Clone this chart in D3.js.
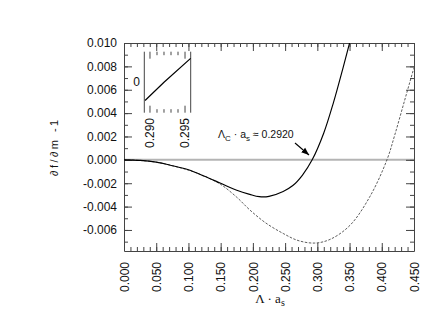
<!DOCTYPE html>
<html>
<head>
<meta charset="utf-8">
<script src="https://cdn.jsdelivr.net/npm/d3@7"></script>
<style>
body { margin: 0; background: #fff; }
text { font-family: "Liberation Sans", Arial, sans-serif; fill: #111; }
</style>
</head>
<body>
<svg id="chart" width="436" height="314"></svg>
<script>
// tick values
const xMajor = [0, 0.05, 0.10, 0.15, 0.20, 0.25, 0.30, 0.35, 0.40, 0.45];
const xMinor = d3.range(0, 0.4501, 0.01);
const yMajor = [-0.006, -0.004, -0.002, 0, 0.002, 0.004, 0.006, 0.008, 0.010];
const yMinor = d3.range(-0.007, 0.0101, 0.001);

// solid curve
const solidX = [0, 0.025, 0.05, 0.075, 0.10, 0.125, 0.15, 0.175, 0.195, 0.21, 0.225, 0.247, 0.262, 0.277, 0.292, 0.31, 0.325, 0.34, 0.351, 0.36];
const solidY = [0, -0.00005, -0.0002, -0.0005, -0.00085, -0.0014, -0.0020, -0.0026, -0.00295, -0.00315, -0.00312, -0.0027, -0.0022, -0.0013, 0, 0.0023, 0.0049, 0.0079, 0.0102, 0.0122];

// dashed curve
const dashX = [0, 0.025, 0.05, 0.075, 0.10, 0.125, 0.15, 0.175, 0.1955, 0.22, 0.247, 0.27, 0.296, 0.32, 0.3507, 0.382, 0.408, 0.42, 0.435, 0.45];
const dashY = [0, -0.00005, -0.0002, -0.0005, -0.00088, -0.0014, -0.0021, -0.0032, -0.0043, -0.0054, -0.0063, -0.0069, -0.00712, -0.0068, -0.0056, -0.0031, 0, 0.0021, 0.0050, 0.0079];

// inset: zoom of the solid curve near its root
const insetX = [0.2893, 0.2920, 0.2958];
const insetY = [-0.0003, 0, 0.00039];
const insetMajor = [0.290, 0.295];
const insetMinor = [0.290, 0.291, 0.292, 0.293, 0.294, 0.295];
const rootLabel = "0.2920";

const svg = d3.select("#chart");
svg.append("rect").attr("width", 436).attr("height", 314).attr("fill", "#fff");

const L = 124, R = 414, T = 43, B = 251;
const x = d3.scaleLinear().domain([0, 0.45]).range([L, R]);
const y = d3.scaleLinear().domain([-0.0078, 0.010]).range([B, T]);
const fmt = d => d.toFixed(3);

const defs = svg.append("defs");
defs.append("clipPath").attr("id", "clip")
  .append("rect").attr("x", L).attr("y", T).attr("width", R - L).attr("height", B - T);

// zero line
svg.append("line")
  .attr("x1", L).attr("x2", R).attr("y1", y(0)).attr("y2", y(0))
  .attr("stroke", "#b4b4b4").attr("stroke-width", 2);

// axes
function styleAxis(g) {
  g.selectAll("path,line").attr("stroke", "#444").attr("stroke-width", 1);
}

const bottom = svg.append("g").attr("transform", `translate(0,${B})`)
  .call(d3.axisBottom(x).tickValues(xMajor).tickSize(-8).tickSizeOuter(0).tickFormat(fmt))
  .call(styleAxis);
bottom.selectAll("text")
  .attr("transform", "rotate(-90)")
  .attr("x", -11).attr("y", 0).attr("dy", "0.35em")
  .style("text-anchor", "end").style("font-size", "12px");
svg.append("g").attr("transform", `translate(0,${B})`)
  .call(d3.axisBottom(x).tickValues(xMinor).tickSize(-4).tickFormat(""))
  .call(styleAxis).select(".domain").remove();

svg.append("g").attr("transform", `translate(0,${T})`)
  .call(d3.axisTop(x).tickValues(xMajor).tickSize(-8).tickSizeOuter(0).tickFormat(""))
  .call(styleAxis);
svg.append("g").attr("transform", `translate(0,${T})`)
  .call(d3.axisTop(x).tickValues(xMinor).tickSize(-4).tickFormat(""))
  .call(styleAxis).select(".domain").remove();

const left = svg.append("g").attr("transform", `translate(${L},0)`)
  .call(d3.axisLeft(y).tickValues(yMajor).tickSize(-8).tickSizeOuter(0).tickPadding(7).tickFormat(fmt))
  .call(styleAxis);
left.selectAll("text").style("font-size", "12px");
svg.append("g").attr("transform", `translate(${L},0)`)
  .call(d3.axisLeft(y).tickValues(yMinor).tickSize(-4).tickFormat(""))
  .call(styleAxis).select(".domain").remove();

svg.append("g").attr("transform", `translate(${R},0)`)
  .call(d3.axisRight(y).tickValues(yMajor).tickSize(-8).tickSizeOuter(0).tickFormat(""))
  .call(styleAxis);
svg.append("g").attr("transform", `translate(${R},0)`)
  .call(d3.axisRight(y).tickValues(yMinor).tickSize(-4).tickFormat(""))
  .call(styleAxis).select(".domain").remove();

// curves
const line = d3.line().x(d => x(d[0])).y(d => y(d[1])).curve(d3.curveCatmullRom);
const plot = svg.append("g").attr("clip-path", "url(#clip)");
plot.append("path")
  .attr("d", line(dashX.map((v, i) => [v, dashY[i]])))
  .attr("fill", "none").attr("stroke", "#333").attr("stroke-width", 0.8)
  .attr("stroke-dasharray", "2.5,1.5");
plot.append("path")
  .attr("d", line(solidX.map((v, i) => [v, solidY[i]])))
  .attr("fill", "none").attr("stroke", "#000").attr("stroke-width", 1.15);

// inset
const xi = d3.scaleLinear().domain([0.28919, 0.29581]).range([144.3, 190.7]);
const yi = d3.scaleLinear().domain([-0.0005, 0.0005]).range([112.7, 51.7]);
const inset = svg.append("g");
xi.range().forEach(px => {
  inset.append("line").attr("x1", px).attr("x2", px).attr("y1", 51.7).attr("y2", 112.7)
    .attr("stroke", "#444");
});
insetMinor.forEach(v => {
  const len = insetMajor.some(m => Math.abs(m - v) < 1e-9) ? 7 : 3.5;
  inset.append("line").attr("x1", xi(v)).attr("x2", xi(v)).attr("y1", 51.7).attr("y2", 51.7 + len).attr("stroke", "#444");
  inset.append("line").attr("x1", xi(v)).attr("x2", xi(v)).attr("y1", 112.7).attr("y2", 112.7 - len).attr("stroke", "#444");
});
inset.append("path")
  .attr("d", d3.line().x(d => xi(d[0])).y(d => yi(d[1]))(insetX.map((v, i) => [v, insetY[i]])))
  .attr("fill", "none").attr("stroke", "#000").attr("stroke-width", 1.2);
inset.selectAll("text.il").data(insetMajor).join("text")
  .attr("class", "il")
  .attr("transform", d => `translate(${xi(d)},118) rotate(-90)`)
  .attr("dy", "0.35em").style("text-anchor", "end").style("font-size", "12px")
  .text(d => d.toFixed(3));
inset.append("text").attr("x", 140).attr("y", yi(0)).attr("dy", "0.35em")
  .style("text-anchor", "end").style("font-size", "12px").text("0");

// annotation
defs.append("marker")
  .attr("id", "arr").attr("viewBox", "0 0 10 10").attr("refX", 10).attr("refY", 5)
  .attr("markerWidth", 7).attr("markerHeight", 7).attr("orient", "auto")
  .append("path").attr("d", "M0,1 L10,5 L0,9 Z").attr("fill", "#000");
svg.append("line")
  .attr("x1", 295).attr("y1", 143).attr("x2", 309).attr("y2", 155)
  .attr("stroke", "#000").attr("stroke-width", 1.1).attr("marker-end", "url(#arr)");
const ann = svg.append("text").attr("x", 218).attr("y", 138).style("font-size", "10.5px");
ann.append("tspan").text("Λ");
ann.append("tspan").attr("dy", 3).style("font-size", "8px").text("C");
ann.append("tspan").attr("dy", -3).text(" · a");
ann.append("tspan").attr("dy", 3).style("font-size", "8px").text("s");
ann.append("tspan").attr("dy", -3).text(" ≈ " + rootLabel);

// axis titles
const xt = svg.append("text").attr("x", 270).attr("y", 303)
  .style("text-anchor", "middle").style("font-family", "'Liberation Serif', serif").style("font-size", "13px");
xt.append("tspan").text("Λ · a");
xt.append("tspan").attr("dy", 3).style("font-size", "10px").text("s");

svg.append("text")
  .attr("transform", "translate(54,148) rotate(-90)")
  .attr("dy", "0.35em").style("text-anchor", "middle").style("font-size", "11px")
  .style("white-space", "pre").style("letter-spacing", "-0.3px")
  .text("∂ f / ∂ m   - 1");
</script>
</body>
</html>
